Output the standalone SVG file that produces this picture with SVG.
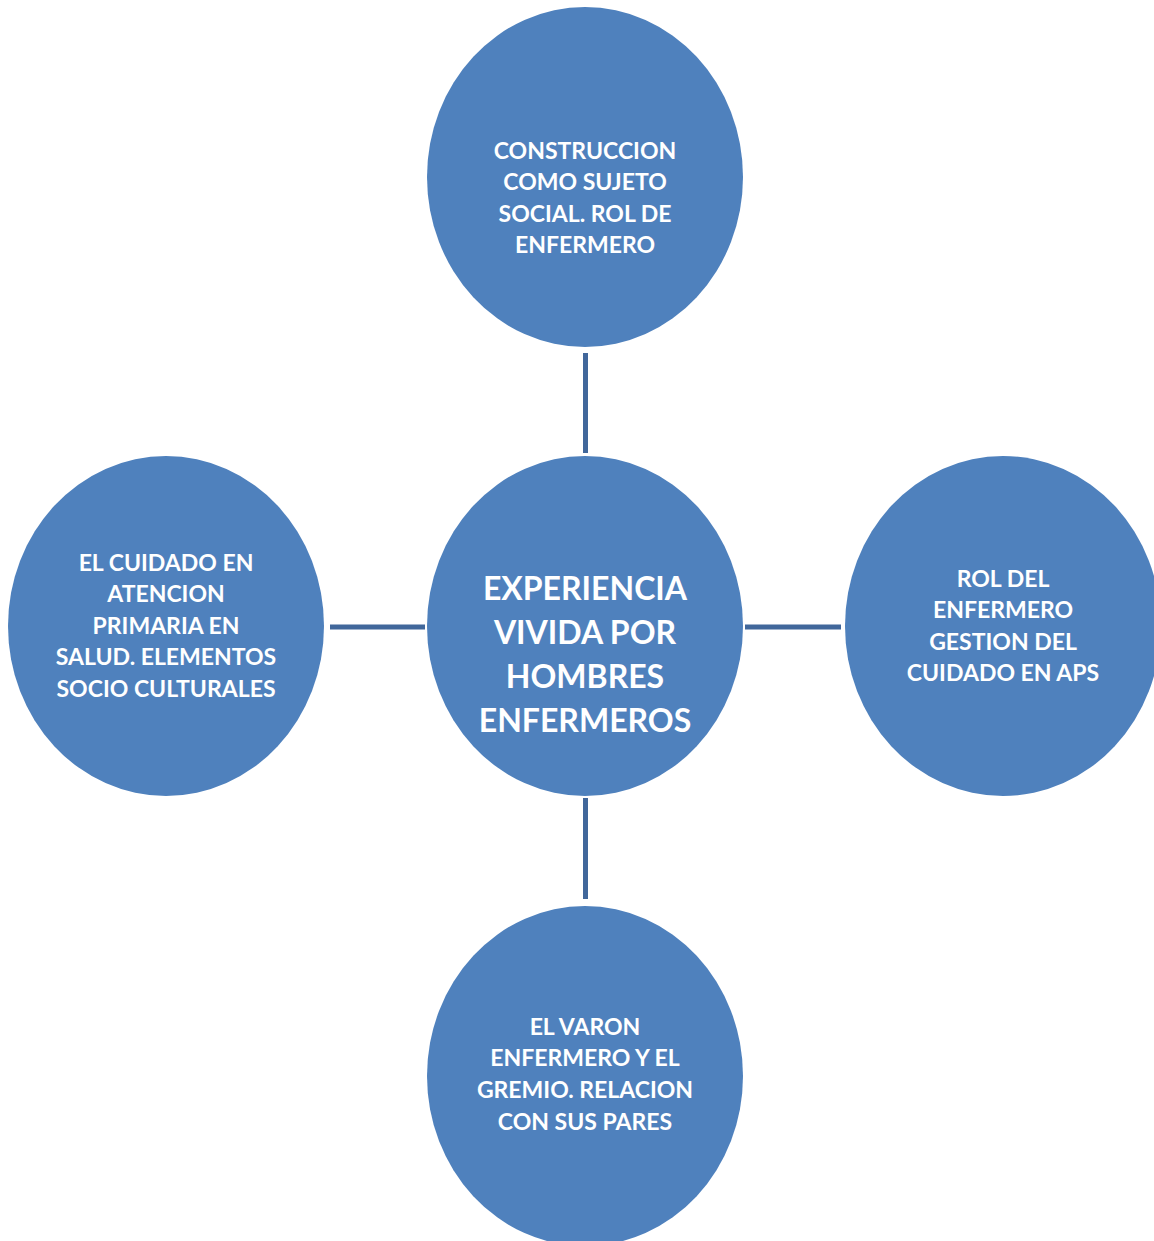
<svg xmlns="http://www.w3.org/2000/svg" width="1154" height="1241" viewBox="0 0 1154 1241">
  <style>
    .node { fill: #4f81bd; }
    .link { stroke: #41679b; stroke-width: 5; fill: none; }
    .lbl { fill: #ffffff; font-family: Lato, "Open Sans", "Liberation Sans", sans-serif; font-weight: bold; font-size: 23px; text-anchor: middle; }
    .lbl-main { font-size: 32px; }
  </style>
  <rect width="1154" height="1241" fill="#ffffff"/>

  <!-- connectors between the centre and the four themes -->
  <g id="connectors">
    <line class="link" x1="585.5" y1="353" x2="585.5" y2="453"/>
    <line class="link" x1="585.5" y1="798" x2="585.5" y2="899"/>
    <line class="link" x1="330" y1="627" x2="425" y2="627"/>
    <line class="link" x1="745" y1="627" x2="841" y2="627"/>
  </g>

  <g id="node-top">
    <ellipse class="node" cx="585" cy="177" rx="158" ry="170"/>
    <text class="lbl" x="585" y="158.5">CONSTRUCCION</text>
    <text class="lbl" x="585" y="190">COMO SUJETO</text>
    <text class="lbl" x="585" y="221.5">SOCIAL. ROL DE</text>
    <text class="lbl" x="585" y="253">ENFERMERO</text>
  </g>

  <g id="node-center">
    <ellipse class="node" cx="585" cy="626" rx="158" ry="170"/>
    <text class="lbl lbl-main" x="585" y="600">EXPERIENCIA</text>
    <text class="lbl lbl-main" x="585" y="644">VIVIDA POR</text>
    <text class="lbl lbl-main" x="585" y="688">HOMBRES</text>
    <text class="lbl lbl-main" x="585" y="732">ENFERMEROS</text>
  </g>

  <g id="node-left">
    <ellipse class="node" cx="166" cy="626" rx="158" ry="170"/>
    <text class="lbl" x="166" y="570.5">EL CUIDADO EN</text>
    <text class="lbl" x="166" y="601.5">ATENCION</text>
    <text class="lbl" x="166" y="633.5">PRIMARIA EN</text>
    <text class="lbl" x="166" y="664.5">SALUD. ELEMENTOS</text>
    <text class="lbl" x="166" y="696.5">SOCIO CULTURALES</text>
  </g>

  <g id="node-right">
    <ellipse class="node" cx="1003" cy="626" rx="158" ry="170"/>
    <text class="lbl" x="1003" y="587">ROL DEL</text>
    <text class="lbl" x="1003" y="618">ENFERMERO</text>
    <text class="lbl" x="1003" y="649.5">GESTION DEL</text>
    <text class="lbl" x="1003" y="681">CUIDADO EN APS</text>
  </g>

  <g id="node-bottom">
    <ellipse class="node" cx="585" cy="1076" rx="158" ry="170"/>
    <text class="lbl" x="585" y="1035">EL VARON</text>
    <text class="lbl" x="585" y="1066">ENFERMERO Y EL</text>
    <text class="lbl" x="585" y="1098">GREMIO. RELACION</text>
    <text class="lbl" x="585" y="1130">CON SUS PARES</text>
  </g>
</svg>
